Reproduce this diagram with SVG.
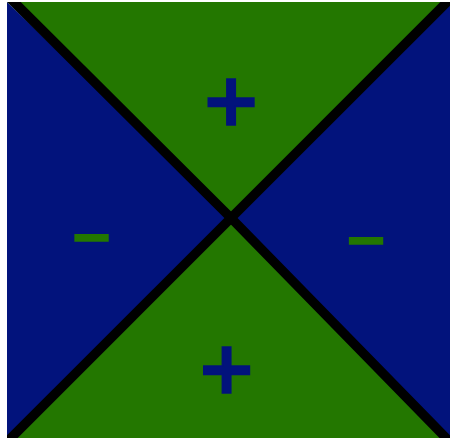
<svg xmlns="http://www.w3.org/2000/svg" width="450" height="441" viewBox="0 0 450 441">
<style>
.g{fill:#237700}
.b{fill:#02137c}
.ln{stroke:#000;stroke-width:9.5;fill:none;stroke-linejoin:round}
.pl{font-family:"DejaVu Sans",sans-serif;font-weight:bold;fill:#02137c;stroke:#02137c;stroke-width:1.5;text-anchor:middle}
.mi{font-family:"DejaVu Sans",sans-serif;font-weight:bold;fill:#237700;stroke:#237700;stroke-width:1.8;text-anchor:middle}
</style>
<defs><clipPath id="c"><rect x="7" y="2" width="443" height="436"/></clipPath></defs>
<rect width="450" height="441" fill="#fff"/>
<g id="regions">
<polygon class="g" points="7,2 450,2 231,218"/>
<polygon class="g" points="7,438 450,438 231,218"/>
<polygon class="b" points="7,2 7,438 231,218"/>
<polygon class="b" points="450,2 450,438 231,218"/>
</g>
<g id="connectors" clip-path="url(#c)">
<path class="ln" d="M10,-2 L231,218 L451,443"/>
<path class="ln" d="M452,-3 L231,218 L6,443"/>
</g>
<g id="plus-top"><text class="pl" x="231" y="125" font-size="73">+</text></g>
<g id="plus-bottom"><text class="pl" x="226.5" y="393" font-size="73">+</text></g>
<g id="minus-left"><text class="mi" x="91.5" y="254" font-size="52">−</text></g>
<g id="minus-right"><text class="mi" x="366" y="257" font-size="52">−</text></g>
</svg>
